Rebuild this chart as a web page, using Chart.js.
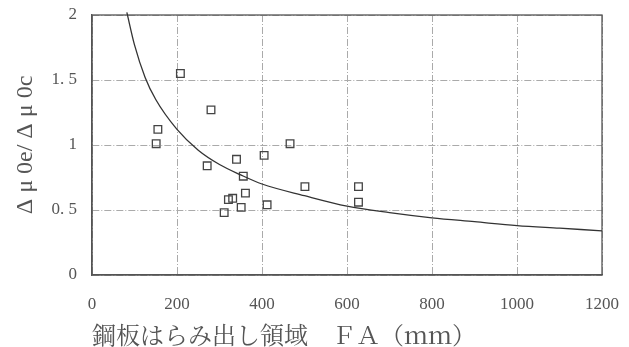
<!DOCTYPE html>
<html>
<head>
<meta charset="utf-8">
<script src="https://cdn.jsdelivr.net/npm/chart.js@4/dist/chart.umd.min.js"></script>
<style>
  html, body { margin: 0; padding: 0; background: #fff; }
  #wrap { width: 629px; height: 347px; position: relative; }
</style>
</head>
<body>
<div id="wrap"><canvas id="c" width="629" height="347"></canvas></div>
<script>
// Measured data: steel-plate bulge region FA (mm) vs. Δμ0e/Δμ0c
const measuredFA = [208, 280, 155, 151, 271, 340, 405, 466, 356, 501, 361, 331, 321, 351, 412, 311, 627, 627];
const measuredRatio = [1.55, 1.27, 1.12, 1.01, 0.84, 0.89, 0.92, 1.01, 0.76, 0.68, 0.63, 0.59, 0.58, 0.52, 0.54, 0.48, 0.68, 0.56];

// Fitted curve, sampled along its length
const curveFA = [82, 100, 125, 150, 200, 250, 300, 350, 400, 500, 600, 700, 800, 900, 1000, 1100, 1200];
const curveRatio = [2.02, 1.77, 1.52, 1.35, 1.12, 0.96, 0.85, 0.77, 0.70, 0.61, 0.53, 0.48, 0.44, 0.41, 0.38, 0.36, 0.34];

const xTicks = [0, 200, 400, 600, 800, 1000, 1200];
const yTicks = [0, 0.5, 1, 1.5, 2];

const textColor = '#555';
const serif = "'Liberation Serif', serif";
const mincho = "'Noto Serif CJK JP', 'Liberation Serif', serif";

const gridDash = [7, 2, 1, 2];

Chart.defaults.font.family = serif;
Chart.defaults.color = textColor;

new Chart(document.getElementById('c'), {
  type: 'scatter',
  data: {
    datasets: [
      {
        label: 'curve',
        type: 'line',
        data: curveFA.map((x, i) => ({ x, y: curveRatio[i] })),
        borderColor: '#333',
        borderWidth: 1.3,
        pointRadius: 0,
        cubicInterpolationMode: 'monotone',
        fill: false,
        clip: { left: 0, right: 0, top: 6, bottom: 0 }
      },
      {
        label: 'measured',
        data: measuredFA.map((x, i) => ({ x, y: measuredRatio[i] })),
        pointStyle: 'rect',
        pointRadius: 5.4,
        pointBackgroundColor: 'rgba(255,255,255,0)',
        pointBorderColor: '#444',
        pointBorderWidth: 1.3
      }
    ]
  },
  options: {
    responsive: false,
    animation: false,
    layout: { padding: { left: 0, right: 27, top: 15, bottom: 0 } },
    plugins: { legend: { display: false }, tooltip: { enabled: false } },
    scales: {
      x: {
        type: 'linear',
        min: 0, max: 1200,
        afterBuildTicks: s => { s.ticks = xTicks.map(v => ({ value: v })); },
        afterFit: s => { s.height = 72; s.paddingLeft = 0; s.paddingRight = 0; },
        border: { display: true, color: '#555', width: 1.3, dash: gridDash },
        grid: { color: '#aaa', lineWidth: 1, drawTicks: false },
        ticks: {
          color: textColor, padding: 19, maxRotation: 0,
          font: { family: serif, size: 17 },
          callback: v => String(v)
        },
        title: {
          display: true,
          text: '鋼板はらみ出し領域　ＦＡ（ｍｍ）',
          align: 'start',
          color: textColor,
          font: { family: mincho, size: 24, lineHeight: 1.0 },
          padding: { top: 0, bottom: 0 }
        }
      },
      y: {
        type: 'linear',
        min: 0, max: 2,
        afterBuildTicks: s => { s.ticks = yTicks.map(v => ({ value: v })); },
        afterFit: s => { s.width = 92; s.paddingTop = 0; s.paddingBottom = 0; },
        border: { display: true, color: '#555', width: 1.3, dash: gridDash },
        grid: { color: '#aaa', lineWidth: 1, drawTicks: false },
        ticks: {
          color: textColor, padding: 15,
          font: { family: serif, size: 17 },
          callback: v => String(v).replace('.', '. ')
        },
        title: {
          display: true,
          text: 'Δ μ 0e/ Δ μ 0c',
          color: textColor,
          font: { family: serif, size: 24 },
          padding: { top: 11, bottom: 0 }
        }
      }
    }
  },
  plugins: [{
    id: 'frame',
    beforeDatasetsDraw(chart) {
      const { ctx, chartArea: a } = chart;
      ctx.save();
      ctx.strokeStyle = '#555';
      ctx.lineWidth = 1.3;
      ctx.setLineDash([]);
      ctx.strokeRect(a.left, a.top, a.right - a.left, a.bottom - a.top);
      ctx.restore();
    }
  }]
});
</script>
</body>
</html>
